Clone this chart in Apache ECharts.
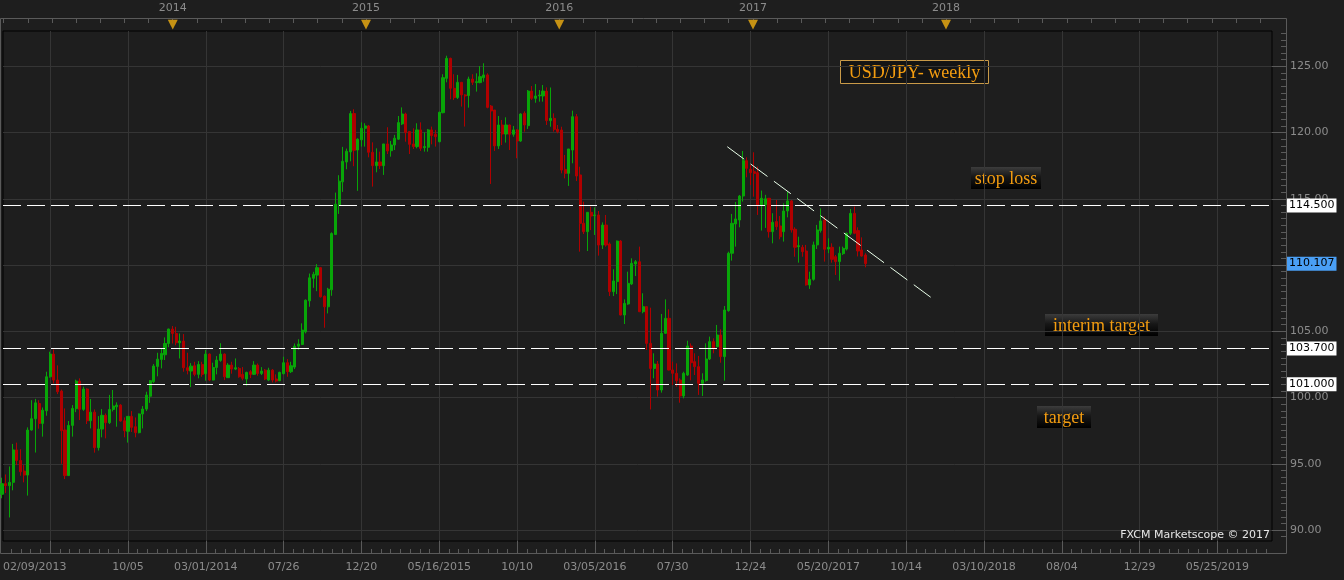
<!DOCTYPE html>
<html>
<head>
<meta charset="utf-8">
<script src="https://cdn.jsdelivr.net/npm/echarts@6/dist/echarts.min.js"></script>
<style>
html,body{margin:0;padding:0;background:#1e1e1e;}
#chart{width:1344px;height:580px;}
</style>
</head>
<body>
<div id="chart"></div>
<script>
// ---- data (weekly USD/JPY candles, week 0 = week starting Sat 02/09/2013) ----
const START_DATE = Date.UTC(2013, 1, 9);
const OPEN = [
92.70,93.50,93.35,93.60,96.05,95.25,94.45,94.15,97.55,98.40,
99.55,98.05,99.00,101.57,103.28,101.32,100.49,97.55,94.11,97.90,
99.16,101.24,99.11,100.64,98.25,98.90,96.22,97.62,98.66,98.10,
99.10,99.30,99.43,98.25,97.45,98.58,97.80,97.35,98.76,99.13,
100.10,101.20,102.35,102.88,103.23,104.08,105.17,104.84,104.14,104.26,
102.25,102.00,102.40,101.75,102.50,101.80,103.28,101.32,102.27,102.80,
103.28,101.50,102.45,102.15,102.20,101.75,101.40,101.95,101.75,102.45,
101.82,102.07,101.32,102.07,101.40,101.27,101.80,102.63,101.95,102.30,
103.88,104.00,104.96,107.30,109.00,109.24,109.80,107.65,106.85,108.13,
112.30,114.50,116.28,117.78,118.54,121.43,118.68,119.45,120.32,120.50,
118.51,117.50,117.78,117.50,119.14,118.63,119.06,119.50,120.65,121.40,
120.07,119.14,118.94,120.20,118.86,118.89,120.20,119.87,119.31,121.50,
124.09,125.60,123.34,122.64,123.79,122.84,122.79,124.04,123.77,123.77,
124.14,124.35,122.00,121.70,118.99,120.57,119.89,120.57,119.87,120.20,
119.36,121.45,120.52,123.13,122.58,122.76,122.76,123.13,120.90,121.07,
120.24,120.19,117.22,116.92,118.68,121.20,116.80,113.15,112.52,113.98,
113.73,113.78,111.51,113.02,111.59,107.99,108.75,111.81,106.23,107.06,
108.57,110.08,110.25,106.48,106.86,104.09,102.20,102.53,100.57,104.85,
105.98,102.08,101.83,101.32,100.12,101.70,103.89,102.71,102.33,101.07,
101.28,102.91,104.22,103.84,104.72,103.09,106.56,110.89,113.10,113.40,
115.21,117.88,117.23,117.05,116.97,114.53,114.55,115.04,112.52,113.28,
112.95,112.52,114.08,114.84,112.70,111.39,111.34,111.06,108.50,108.92,
111.52,112.60,113.40,111.21,111.34,110.63,110.26,110.86,111.21,112.40,
113.90,112.60,111.14,110.76
];
const HIGH = [
93.95,94.20,94.80,96.50,96.60,96.10,94.90,97.75,99.80,99.90,
99.80,99.25,101.95,103.46,103.63,102.43,100.60,99.18,98.23,99.43,
101.35,101.45,100.82,100.70,99.89,99.10,98.60,99.13,98.80,100.20,
100.57,99.64,99.50,98.50,98.60,98.98,98.50,98.80,99.36,100.44,
101.32,102.53,103.38,103.70,104.54,105.20,105.40,105.34,104.84,104.79,
103.38,102.60,102.70,102.75,102.70,103.60,103.33,102.63,103.13,104.10,
103.33,102.60,102.70,102.95,102.30,102.30,101.95,102.07,102.75,102.57,
102.30,102.15,102.25,102.15,101.75,101.95,103.08,102.90,102.70,104.08,
104.40,105.60,107.40,109.36,109.49,110.07,109.85,107.70,108.28,112.47,
115.47,116.78,118.92,118.79,121.63,121.76,119.56,120.77,120.70,120.57,
119.26,118.81,118.56,119.14,120.40,119.36,119.82,121.25,121.90,121.50,
120.12,120.32,120.70,120.77,120.02,120.27,120.45,120.20,121.58,124.40,
125.80,125.65,124.40,124.35,123.82,122.90,124.22,124.40,124.47,125.02,
125.23,124.47,122.08,121.70,121.25,120.95,121.15,120.60,120.50,120.25,
121.45,121.60,123.21,123.51,123.66,123.21,123.59,123.41,123.40,121.45,
120.57,120.44,118.31,118.76,121.65,121.40,117.42,114.78,113.98,114.41,
114.35,114.08,113.22,113.78,111.71,109.68,111.85,111.88,107.41,109.50,
110.51,110.38,111.39,107.87,106.90,106.78,103.34,102.76,106.31,107.41,
106.66,102.71,102.58,101.45,101.95,104.29,104.09,103.34,103.14,101.83,
104.09,104.60,104.47,105.48,105.15,106.91,111.01,113.86,114.76,115.29,
118.61,118.13,117.55,118.51,117.43,115.62,115.30,115.04,113.91,114.91,
113.70,114.66,115.54,114.91,112.85,112.14,111.52,111.52,109.50,111.77,
113.03,114.28,113.65,112.02,111.64,110.76,111.39,111.39,112.45,114.23,
114.41,112.85,112.09,110.89
];
const LOW = [
92.40,92.80,90.95,93.00,94.90,94.10,93.60,92.60,97.50,95.85,
97.65,97.05,98.63,101.50,101.07,100.26,95.00,93.85,94.10,97.05,
98.90,98.30,99.00,98.00,97.67,95.84,96.00,97.00,96.92,98.00,
98.95,97.80,98.18,97.00,96.60,97.40,97.00,97.30,97.67,98.98,
99.60,101.10,101.60,102.20,102.83,103.80,104.08,103.95,102.95,101.95,
101.75,100.79,101.60,101.45,101.57,101.27,101.24,101.30,101.75,102.70,
101.32,101.50,101.80,102.07,101.50,101.30,100.90,101.47,101.70,101.65,
101.70,101.32,101.24,101.14,101.14,101.24,101.75,101.57,101.85,102.15,
103.60,103.96,104.84,106.85,108.28,108.03,107.55,105.27,106.35,107.68,
112.30,113.86,115.52,117.23,117.83,117.46,115.60,118.94,118.94,118.13,
115.92,117.00,117.25,116.80,118.38,118.18,118.68,119.44,120.57,119.31,
118.38,118.76,118.81,118.61,118.56,118.56,119.11,118.94,119.26,121.45,
123.79,122.51,122.46,122.53,121.96,120.45,121.88,123.59,123.09,123.72,
123.84,121.83,116.12,118.61,118.76,119.06,119.24,118.68,119.69,118.06,
119.30,120.07,120.27,122.46,122.25,122.33,122.33,120.57,120.44,120.07,
119.94,116.92,116.54,115.97,117.68,116.34,111.01,112.34,111.06,112.64,
112.27,110.71,111.21,111.39,107.66,107.66,107.81,106.20,105.55,107.00,
108.50,109.17,106.45,106.36,103.59,99.10,101.45,100.07,100.37,104.80,
102.05,100.95,100.82,99.61,99.94,101.63,101.30,101.70,100.20,100.12,
101.20,102.83,103.34,103.79,102.63,101.28,106.48,110.33,111.39,112.85,
114.79,116.62,116.04,115.16,113.78,112.60,112.80,112.07,111.64,112.65,
111.94,111.77,113.60,112.45,110.63,110.18,110.63,108.45,108.20,108.82,
111.21,112.45,110.26,110.90,110.18,109.25,108.82,110.76,111.10,112.27,
112.33,110.65,110.63,109.83
];
const CLOSE = [
93.50,93.35,93.60,96.05,95.25,94.40,94.15,97.55,98.40,99.60,
98.05,99.05,101.57,103.28,101.32,100.44,97.50,94.11,97.90,99.18,
101.24,99.11,100.64,98.25,98.90,96.22,97.62,98.66,98.10,99.10,
99.36,99.43,98.23,97.50,98.58,97.75,97.35,98.76,99.13,100.19,
101.27,102.38,102.90,103.33,104.08,105.17,104.84,104.14,104.26,102.25,
102.05,102.37,101.75,102.50,101.75,103.28,101.32,102.27,102.83,103.28,
101.57,102.45,102.15,102.25,101.57,101.45,101.90,101.75,102.45,101.82,
102.00,101.40,102.07,101.32,101.24,101.90,102.63,101.95,102.40,103.88,
104.04,105.09,107.35,109.04,109.30,109.80,107.60,106.85,108.18,112.38,
114.59,116.33,117.83,118.59,121.43,118.66,119.50,120.32,120.50,118.51,
117.50,117.78,117.50,119.14,118.61,119.06,119.57,120.75,121.40,119.99,
119.11,118.94,120.20,118.81,118.94,120.20,119.77,119.69,121.53,124.14,
125.60,123.34,122.64,123.79,122.84,122.76,124.04,123.79,123.84,124.22,
124.35,121.90,121.63,118.99,120.57,119.89,120.57,119.87,120.20,119.36,
121.40,120.57,123.13,122.58,122.76,122.83,123.13,120.90,121.07,120.24,
120.07,117.17,116.92,118.76,121.20,116.72,113.15,112.52,113.98,113.70,
113.78,111.51,113.02,111.51,107.99,108.80,111.81,106.23,107.11,108.62,
110.13,110.25,106.48,106.86,104.09,102.20,102.53,100.57,104.85,105.98,
102.08,101.83,101.27,100.12,101.83,103.89,102.63,102.33,101.07,101.33,
102.91,104.22,103.72,104.72,103.09,106.61,110.89,113.15,113.48,115.21,
117.88,117.30,116.97,116.92,114.53,115.04,115.00,112.52,113.23,112.90,
112.14,114.08,114.84,112.65,111.34,111.46,111.01,108.50,108.92,111.52,
112.65,113.33,111.19,111.34,110.43,110.26,110.89,111.26,112.40,113.90,
112.40,111.06,110.68,110.107
];
const LEVELS = [114.5, 103.7, 101.0];
const LAST_PRICE = 110.107;
// descending trend line: [week index, price]
const TREND = [[195.73, 118.93], [252.27, 107.23]];
// axis ticks / labels
const GRID_WEEKS = [13,34,55,76,97,118,139,160,181,202,223,244,265,286,307,328];
const BOTTOM_LABEL_WEEKS = [0,34,55,76,97,118,139,160,181,202,223,244,265,286,307,328];
const BOTTOM_LABELS = ['02/09/2013','10/05','03/01/2014','07/26','12/20','05/16/2015','10/10','03/05/2016','07/30','12/24','05/20/2017','10/14','03/10/2018','08/04','12/29','05/25/2019'];
const YEAR_LABELS = [2014, 2015, 2016, 2017, 2018];
const PRICE_TICKS = [90, 95, 100, 105, 110, 115, 120, 125];

// ---- layout helpers ----
const XMIN = 0.27, XMAX = 342.73;
const YMIN = 89.174, YMAX = 127.664;
const WEEK = 7 * 86400000;
function yearWeek(y) { return (Date.UTC(y, 0, 1) - START_DATE) / WEEK - 0.5; }
function nearestIdx(arr, v) { let b = 0; for (let i = 1; i < arr.length; i++) if (Math.abs(arr[i] - v) < Math.abs(arr[b] - v)) b = i; return b; }

const labelPos = BOTTOM_LABEL_WEEKS.map(w => Math.max(w, XMIN));
const minorBottom = [];
for (let w = 13 - 2.625 * 4; w <= XMAX; w += 2.625) if (w >= XMIN) minorBottom.push(w);
const yearPos = YEAR_LABELS.map(yearWeek);
const topMinor = [];
for (let y = 2013; y <= 2019; y++) {
  const a = yearWeek(y), b = yearWeek(y + 1);
  for (let k = 0; k < 8; k++) { const v = a + k * (b - a) / 8; if (v >= XMIN && v <= XMAX) topMinor.push(v); }
}
const minorPrice = [];
for (let p = 89.5; p <= 127.5; p += 0.5) minorPrice.push(p);

const candleData = OPEN.map((o, i) => [i, o, CLOSE[i], LOW[i], HIGH[i]]);

const GRAY = '#8c8c8c', TICK = '#5a5a5a', GRIDC = '#353535';
const FONT = 'DejaVu Sans';
const UP = '#08a508', DOWN = '#b00000';

function baseX(extra) {
  return Object.assign({
    type: 'value', min: XMIN, max: XMAX, gridIndex: 0,
    axisLine: { show: false }, axisTick: { show: false }, axisLabel: { show: false }, splitLine: { show: false }
  }, extra);
}
function baseY(extra) {
  return Object.assign({
    type: 'value', min: YMIN, max: YMAX, position: 'right', offset: 14, gridIndex: 0,
    axisLine: { show: false }, axisTick: { show: false }, axisLabel: { show: false }, splitLine: { show: false }
  }, extra);
}
const labelGrad = {
  type: 'linear', x: 0, y: 0, x2: 0, y2: 1,
  colorStops: [{ offset: 0, color: '#3c3c3c' }, { offset: 0.45, color: '#171717' }, { offset: 1, color: '#000000' }]
};
function noteBox(x, y, w, h, text) {
  return {
    type: 'group', z: 50, children: [
      { type: 'rect', shape: { x: x, y: y, width: w, height: h }, style: { fill: labelGrad } },
      { type: 'text', style: { x: x + w / 2, y: y + h / 2 + 1, text: text, fill: '#f49d10', font: '18px "Liberation Serif"', align: 'center', verticalAlign: 'middle' } }
    ]
  };
}

const chart = echarts.init(document.getElementById('chart'), null, { renderer: 'canvas' });
chart.setOption({
  backgroundColor: '#1e1e1e',
  animation: false,
  grid: { left: 0, right: 72, top: 31, bottom: 39, show: true, borderColor: '#000000', borderWidth: 1, backgroundColor: 'transparent' },
  xAxis: [
    baseX({
      position: 'bottom', offset: 13,
      axisTick: { show: true, inside: true, length: 13, customValues: GRID_WEEKS, lineStyle: { color: TICK } },
      axisLabel: { show: true, customValues: labelPos, alignMinLabel: 'left', margin: 8, color: GRAY, fontSize: 11, fontFamily: FONT,
        formatter: v => BOTTOM_LABELS[nearestIdx(BOTTOM_LABEL_WEEKS, v)] },
      splitLine: { show: true, lineStyle: { color: GRIDC, width: 1 } }
    }),
    baseX({
      position: 'bottom', offset: 13,
      axisTick: { show: true, inside: true, length: 5, customValues: minorBottom, lineStyle: { color: TICK } }
    }),
    baseX({
      position: 'top', offset: 13,
      axisTick: { show: true, inside: true, length: 5, customValues: topMinor, lineStyle: { color: TICK } },
      axisLabel: { show: true, customValues: yearPos, margin: 4, color: GRAY, fontSize: 11, fontFamily: FONT,
        formatter: v => String(YEAR_LABELS[nearestIdx(yearPos, v)]) }
    }),
    baseX({
      position: 'top', offset: 13,
      axisLabel: { show: true, inside: true, customValues: yearPos, margin: 0, color: '#c69214', fontSize: 13, fontFamily: FONT,
        formatter: () => '\u25BC' }
    })
  ],
  yAxis: [
    baseY({
      axisTick: { show: true, inside: true, length: 14, customValues: PRICE_TICKS, lineStyle: { color: TICK } },
      axisLabel: { show: true, customValues: PRICE_TICKS, margin: 4, color: GRAY, fontSize: 11, fontFamily: FONT,
        formatter: v => v.toFixed(2) },
      splitLine: { show: true, lineStyle: { color: GRIDC, width: 1 } }
    }),
    baseY({
      axisTick: { show: true, inside: true, length: 5, customValues: minorPrice, lineStyle: { color: TICK } }
    }),
    baseY({
      z: 5,
      axisLabel: { show: true, customValues: LEVELS, margin: 1, color: '#000', backgroundColor: '#ffffff', padding: [2, 2, 1, 2],
        fontSize: 11, fontFamily: FONT, formatter: v => v.toFixed(3) }
    }),
    baseY({
      z: 5,
      axisLabel: { show: true, customValues: [LAST_PRICE], margin: 1, color: '#000', backgroundColor: '#4a9ff5', padding: [2, 2, 1, 2],
        fontSize: 11, fontFamily: FONT, formatter: v => v.toFixed(3) }
    })
  ],
  series: [
    {
      type: 'candlestick', xAxisIndex: 0, yAxisIndex: 0,
      barWidth: 2.6,
      data: candleData,
      itemStyle: { color: UP, color0: DOWN, borderColor: UP, borderColor0: DOWN, borderWidth: 1 },
      markLine: {
        silent: true, symbol: ['none', 'none'], label: { show: false },
        lineStyle: { color: '#ffffff', width: 1.2, type: [18, 6] },
        data: LEVELS.map(v => ({ yAxis: v }))
      },
      z: 2
    },
    {
      type: 'line', xAxisIndex: 0, yAxisIndex: 0, data: TREND, symbol: 'none', silent: true,
      lineStyle: { color: '#eaffea', width: 1, type: [21, 8] }, z: 3
    }
  ],
  graphic: [
    { type: 'rect', z: -1, shape: { x: 0.5, y: 18.5, width: 1286, height: 535 }, style: { fill: null, stroke: '#5a5a5a', lineWidth: 1 } },
    {
      type: 'group', z: 50, children: [
        { type: 'rect', shape: { x: 840.5, y: 60.5, width: 148, height: 23 }, style: { fill: '#141414', stroke: '#c99a48', lineWidth: 1 } },
        { type: 'text', style: { x: 914.5, y: 73, text: 'USD/JPY- weekly', fill: '#f49d10', font: '18px "Liberation Serif"', align: 'center', verticalAlign: 'middle' } }
      ]
    },
    noteBox(971, 167, 70, 22, 'stop loss'),
    noteBox(1045, 314, 113, 22, 'interim target'),
    noteBox(1037, 406, 54, 22, 'target'),
    { type: 'text', z: 50, style: { x: 1270, y: 535, text: 'FXCM Marketscope \u00A9 2017', fill: '#e8e8e8', font: '11px "DejaVu Sans"', align: 'right', verticalAlign: 'middle' } }
  ]
});
</script>
</body>
</html>
